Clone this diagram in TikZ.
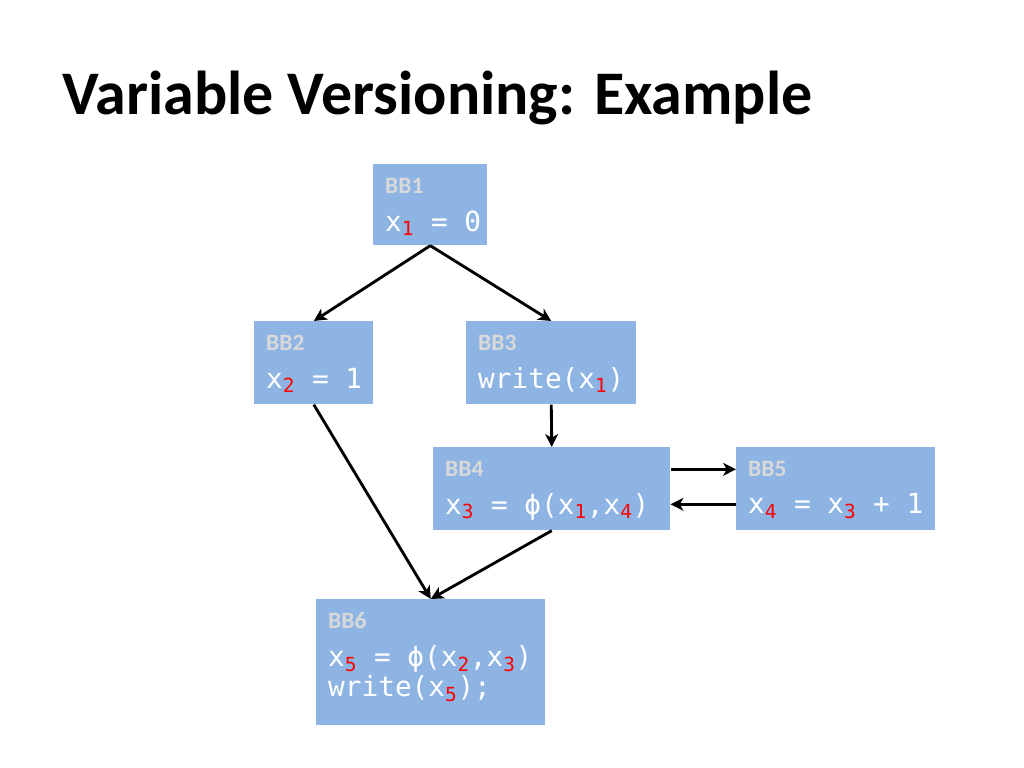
\documentclass[tikz,border=0pt]{standalone}
\usepackage{fontspec}
\setmainfont{Carlito}
\setmonofont{DejaVu Sans Mono}
\usetikzlibrary{arrows.meta,positioning}

\definecolor{BlockBlue}{HTML}{8EB4E3}
\definecolor{TagGray}{HTML}{D9D9D9}
\newcommand{\vsub}[1]{\textsubscript{\textcolor{red}{#1}}}
\newcommand{\bbtag}[1]{{\fontsize{16.5}{20}\rmfamily\bfseries\color{TagGray}#1}}

\begin{document}
\begin{tikzpicture}[x=0.703125pt, y=-0.703125pt]
			\tikzstyle{Block}	= [rectangle, fill=BlockBlue, inner sep=0pt, anchor=north west]
			\tikzstyle{Code}	= [anchor=north west, inner sep=0pt, align=left, text=white, font=\fontsize{19.5}{21}\selectfont\ttfamily]
			\tikzstyle{Title}	= [anchor=base west, inner sep=0pt, font=\fontsize{43.6}{52}\selectfont\bfseries]
			\tikzstyle{Flow}	= [-{Stealth[length=9pt,width=9pt,inset=2.5pt]}, line width=2pt]
			
			\useasboundingbox (0,0) rectangle (1024,768);
			
			\node (title) at (62,115) [Title] {Variable Versioning: Example};
			
			\node (bb1) at (373,164) [Block, minimum width=80.2pt, minimum height=57pt] {};
			\node (bb2) at (254,321) [Block, minimum width=83.7pt, minimum height=58.4pt] {};
			\node (bb3) at (466,321) [Block, minimum width=119.5pt, minimum height=58.4pt] {};
			\node (bb4) at (433,447) [Block, minimum width=166.6pt, minimum height=58.4pt] {};
			\node (bb5) at (736,447) [Block, minimum width=139.9pt, minimum height=58.4pt] {};
			\node (bb6) at (316,599) [Block, minimum width=161pt, minimum height=88.6pt] {};
			
			\node (tx1) at ([shift={(8.4pt,-9.5pt)}]bb1.north west) [Code] {\bbtag{BB1}\\[5.7pt]x\vsub{1} = 0};
			\node (tx2) at ([shift={(8.4pt,-9.5pt)}]bb2.north west) [Code] {\bbtag{BB2}\\[5.7pt]x\vsub{2} = 1};
			\node (tx3) at ([shift={(8.4pt,-9.5pt)}]bb3.north west) [Code] {\bbtag{BB3}\\[5.7pt]write(x\vsub{1})};
			\node (tx4) at ([shift={(8.4pt,-9.5pt)}]bb4.north west) [Code] {\bbtag{BB4}\\[5.7pt]x\vsub{3} = ϕ(x\vsub{1},x\vsub{4})};
			\node (tx5) at ([shift={(8.4pt,-9.5pt)}]bb5.north west) [Code] {\bbtag{BB5}\\[5.7pt]x\vsub{4} = x\vsub{3} + 1};
			\node (tx6) at ([shift={(8.4pt,-9.5pt)}]bb6.north west) [Code] {\bbtag{BB6}\\[5.7pt]x\vsub{5} = ϕ(x\vsub{2},x\vsub{3})\\write(x\vsub{5});};
			
			\draw [Flow] (bb1.south) -- (bb2.north);
			\draw [Flow] (bb1.south) -- (bb3.north);
			\draw [Flow] (bb3.south) -- (bb4.north);
			\draw [Flow] ([yshift=13.7pt]bb4.east) -- ([yshift=13.7pt]bb5.west);
			\draw [Flow] ([yshift=-10.9pt]bb5.west) -- ([yshift=-10.9pt]bb4.east);
			\draw [Flow] (bb2.south) -- (bb6.north);
			\draw [Flow] (bb4.south) -- (bb6.north);
\end{tikzpicture}
\end{document}
